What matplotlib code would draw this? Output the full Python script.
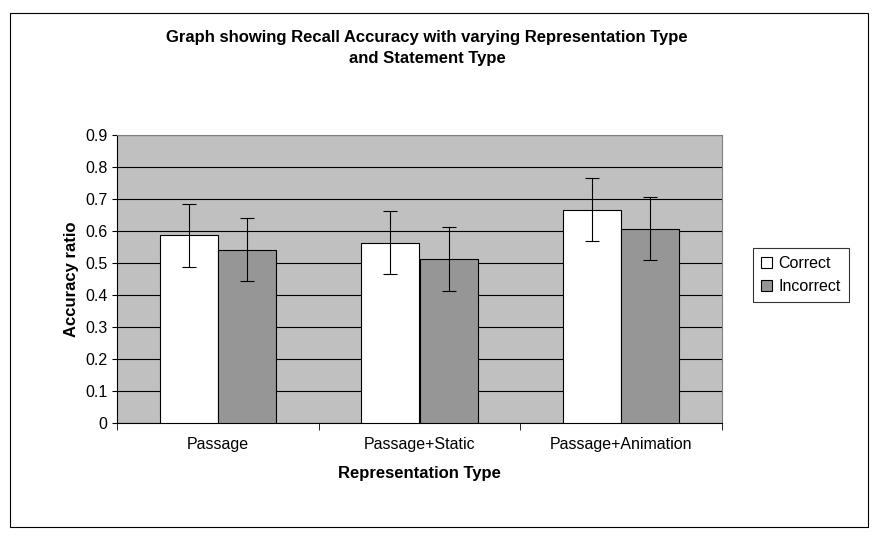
import matplotlib
matplotlib.use("Agg")
import matplotlib.pyplot as plt
import numpy as np
from matplotlib.patches import Rectangle

plt.rcParams['font.family'] = ['Liberation Sans', 'DejaVu Sans']

categories = ["Passage", "Passage+Static", "Passage+Animation"]
correct = [0.586, 0.563, 0.667]
incorrect = [0.542, 0.511, 0.607]
correct_err = [0.099, 0.098, 0.098]
incorrect_err = [0.098, 0.100, 0.098]
yticks = [0, 0.1, 0.2, 0.3, 0.4, 0.5, 0.6, 0.7, 0.8, 0.9]

fig = plt.figure(figsize=(8.84, 5.36), dpi=100)
fig.patches.append(Rectangle((10/884, 1-527/536), 858/884, 514/536, transform=fig.transFigure,
                             fill=False, edgecolor='black', linewidth=0.8))
ax = fig.add_axes([117/884, 1-423/536, 605/884, 288/536])
ax.set_facecolor('#c0c0c0')
x = np.arange(len(categories))
w = 0.288
ax.bar(x - w/2, correct, w, color='white', edgecolor='black', linewidth=0.8, label='Correct', zorder=3,
       yerr=correct_err, error_kw=dict(ecolor='black', elinewidth=0.8, capsize=5, capthick=0.8, zorder=4))
ax.bar(x + w/2, incorrect, w, color='#969696', edgecolor='black', linewidth=0.8, label='Incorrect', zorder=3,
       yerr=incorrect_err, error_kw=dict(ecolor='black', elinewidth=0.8, capsize=5, capthick=0.8, zorder=4))
ax.set_xlim(-0.5, 2.5)
ax.set_ylim(0, 0.9)
ax.set_yticks(yticks)
ax.set_yticklabels([f"{v:g}" for v in yticks], fontsize=11.5)
ax.yaxis.grid(True, color='black', linewidth=0.8, zorder=0)
ax.set_axisbelow(True)
ax.set_xticks(x)
ax.set_xticklabels(categories, fontsize=11.5)
ax.tick_params(axis='x', length=0, pad=10)
ax.set_xticks([-0.5, 0.5, 1.5, 2.5], minor=True)
ax.tick_params(axis='x', which='minor', length=5)
for s in ['top', 'right']:
    ax.spines[s].set_color('#808080')
ax.set_ylabel('Accuracy ratio', fontsize=12, fontweight='bold')
ax.set_xlabel('Representation Type', fontsize=12, fontweight='bold', labelpad=10)
fig.text(0.483, 1-48/536, 'Graph showing Recall Accuracy with varying Representation Type\nand Statement Type',
         ha='center', va='center', fontsize=12, fontweight='bold', linespacing=1.5)
leg = fig.legend(loc='center left', bbox_to_anchor=(745/884, 1-275/536), fontsize=11.5,
                 frameon=True, fancybox=False, edgecolor='black', handlelength=0.7, handleheight=0.7,
                 handletextpad=0.4, borderpad=0.5)
leg.get_frame().set_linewidth(0.8)
fig.savefig('out.png', dpi=100)
